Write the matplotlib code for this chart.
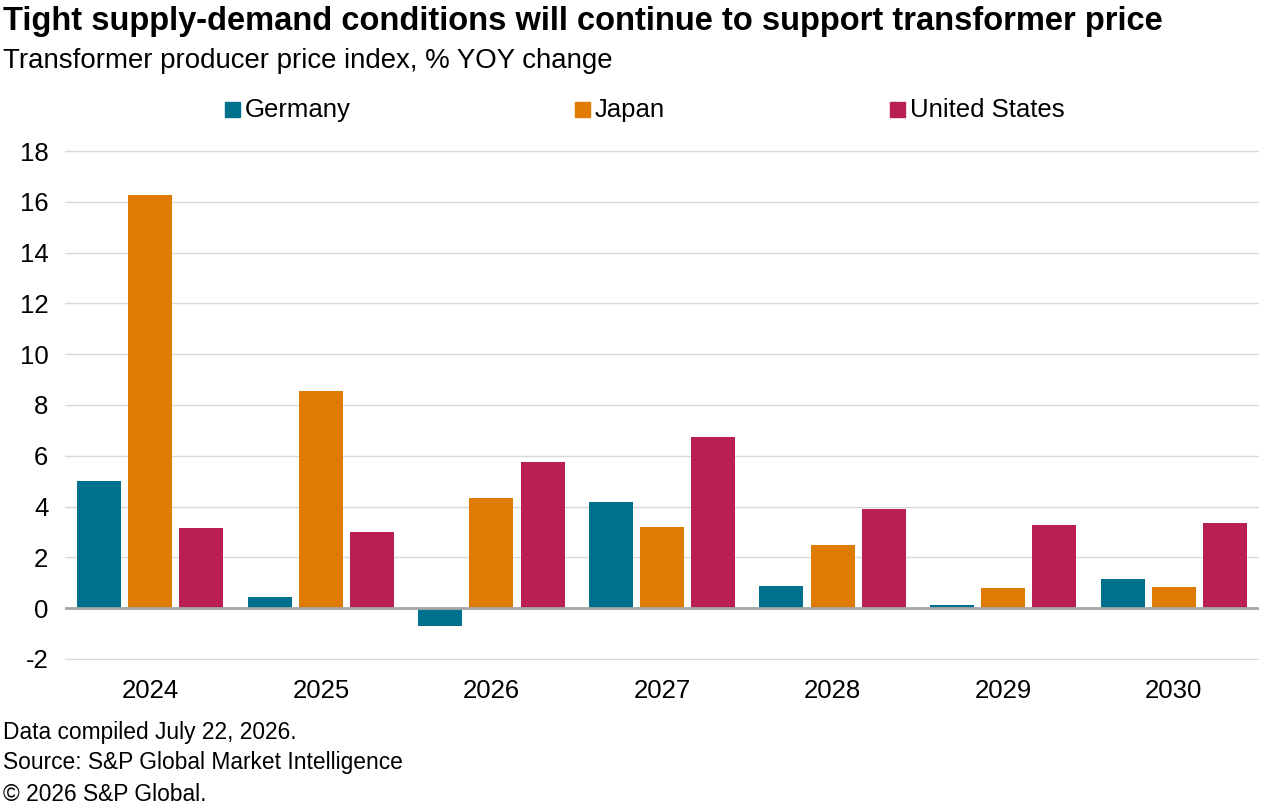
import numpy as np
import matplotlib.pyplot as plt
from matplotlib.patches import Rectangle

plt.rcParams['font.family'] = ['Liberation Sans', 'DejaVu Sans']
plt.rcParams['axes.unicode_minus'] = False

# ---------------- data ----------------
years = ["2024", "2025", "2026", "2027", "2028", "2029", "2030"]
germany = [5.0, 0.43, -0.71, 4.17, 0.87, 0.12, 1.14]
japan = [16.27, 8.55, 4.33, 3.19, 2.48, 0.79, 0.83]
united_states = [3.15, 2.99, 5.75, 6.73, 3.9, 3.27, 3.35]

series_names = ["Germany", "Japan", "United States"]
colors = ["#00718D", "#DE7B00", "#BA1F53"]

# ---------------- figure ----------------
fig = plt.figure(figsize=(12.8, 8.07), dpi=100)
ax = fig.add_axes([0.0508, 0.1822, 0.9328, 0.6319])

x = np.arange(len(years))
width = 0.258
offsets = [-0.30, 0.0, 0.30]

for vals, off, c in zip([germany, japan, united_states], offsets, colors):
    ax.bar(x + off, vals, width=width, color=c, zorder=3)

ax.set_xlim(-0.5, len(years) - 0.5)
ax.set_ylim(-2.04, 18.04)
ax.set_yticks(np.arange(-2, 19, 2))
ax.set_xticks(x)
ax.set_xticklabels(years)

ax.grid(axis="y", color="#D9D9D9", linewidth=1, zorder=0)
ax.axhline(0, color="#A6A6A6", linewidth=2, zorder=4)

for s in ax.spines.values():
    s.set_visible(False)
ax.tick_params(axis="both", length=0, labelsize=18.5, colors="black")
ax.tick_params(axis="y", pad=12)
ax.tick_params(axis="x", pad=14)

# ---------------- titles ----------------
fig.text(0.002, 0.973, "Tight supply-demand conditions will continue to support transformer price",
         fontsize=23.5, fontweight="bold", va="center", ha="left")
fig.text(0.002, 0.924, "Transformer producer price index, % YOY change",
         fontsize=19.9, va="center", ha="left")

# ---------------- legend ----------------
leg_x = [0.1758, 0.4492, 0.6953]
leg_y = 0.864
for lx, name, c in zip(leg_x, series_names, colors):
    fig.add_artist(Rectangle((lx, leg_y - 0.0095), 0.0117, 0.0186,
                             transform=fig.transFigure, color=c))
    fig.text(lx + 0.0155, leg_y, name, fontsize=18.5, va="center", ha="left")

# ---------------- footnotes ----------------
fig.text(0.002, 0.092, "Data compiled July 22, 2026.", fontsize=16.4, va="center")
fig.text(0.002, 0.055, "Source: S&P Global Market Intelligence", fontsize=16.4, va="center")
fig.text(0.002, 0.016, "© 2026 S&P Global.", fontsize=16.4, va="center")

fig.savefig("out.png", dpi=100)
